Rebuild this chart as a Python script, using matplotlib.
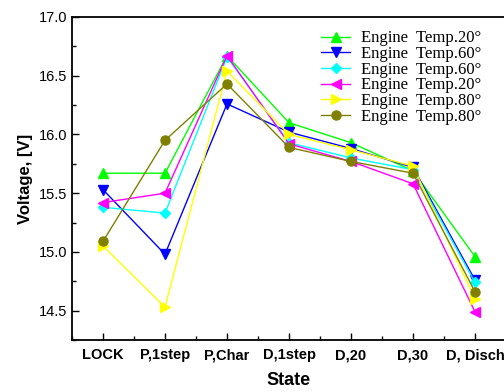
import numpy as np
import matplotlib
matplotlib.use('Agg')
import matplotlib.pyplot as plt
from matplotlib.ticker import MultipleLocator

states = ['LOCK', 'P,1step', 'P,Char', 'D,1step', 'D,20', 'D,30', 'D, Disch']

# значения напряжения по состояниям
green_20 = [15.67, 15.67, 16.67, 16.10, 15.93, 15.69, 14.96]
blue_60 = [15.53, 14.98, 16.26, 16.02, 15.88, 15.72, 14.76]
cyan_60 = [15.38, 15.33, 16.66, 15.93, 15.80, 15.70, 14.74]
magenta_20 = [15.42, 15.50, 16.67, 15.92, 15.77, 15.58, 14.49]
yellow_80 = [15.05, 14.53, 16.54, 16.00, 15.87, 15.73, 14.60]
olive_80 = [15.09, 15.95, 16.43, 15.89, 15.77, 15.67, 14.66]

labels = ['Engine  Temp.20°', 'Engine  Temp.60°', 'Engine  Temp.60°',
          'Engine  Temp.20°', 'Engine  Temp.80°', 'Engine  Temp.80°']

plt.rcParams['font.family'] = ['Liberation Sans', 'DejaVu Sans']

fig = plt.figure(figsize=(5.04, 3.92), dpi=100)
ax = fig.add_axes([72/504, 1 - 340/392, 434/504, 323/392])

x = np.arange(len(states))
series = [green_20, blue_60, cyan_60, magenta_20, yellow_80, olive_80]
colors = ['#00ff00', '#0000ff', '#00ffff', '#ff00ff', '#ffff00', '#808000']
markers = ['^', 'v', 'D', '<', '>', 'o']
sizes = [7, 7, 5.5, 7, 7, 6.5]
for y, c, m, s, lab in zip(series, colors, markers, sizes, labels):
    ax.plot(x, y, color=c, marker=m, markersize=s, lw=1, label=lab)

ax.set_xlim(-0.5, 6.5)
ax.set_ylim(14.25, 17.0)
ax.set_xticks(x)
ax.set_xticklabels(states, fontsize=9, fontweight='bold')
ax.xaxis.set_minor_locator(MultipleLocator(0.5))
ax.yaxis.set_major_locator(MultipleLocator(0.5))
ax.yaxis.set_minor_locator(MultipleLocator(0.25))
ax.tick_params(direction='in', which='major', length=5, width=1, labelsize=10.5)
ax.tick_params(direction='in', which='minor', length=3, width=1)
ax.tick_params(axis='x', pad=6)
for sp in ax.spines.values():
    sp.set_linewidth(1.3)

ax.set_xlabel('State', fontsize=13, fontweight='bold', labelpad=7)
ax.set_ylabel('Voltage, [V]', fontsize=12, fontweight='bold')

ax.legend(loc='upper left', bbox_to_anchor=(0.54, 1.005), frameon=False,
          prop={'family': 'Liberation Serif', 'size': 12},
          labelspacing=-0.02, handlelength=1.7, handletextpad=0.7)

fig.savefig('out.png', dpi=100)
